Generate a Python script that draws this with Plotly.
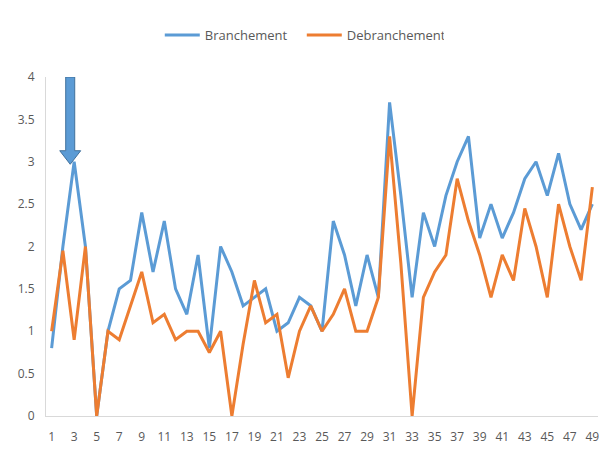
import plotly.graph_objects as go

categories = list(range(1, 50))
branchement = [0.8, 2.0, 3.0, 2.0, 0.0, 1.0, 1.5, 1.6, 2.4, 1.7,
               2.3, 1.5, 1.2, 1.9, 0.8, 2.0, 1.7, 1.3, 1.4, 1.5,
               1.0, 1.1, 1.4, 1.3, 1.0, 2.3, 1.9, 1.3, 1.9, 1.4,
               3.7, 2.6, 1.4, 2.4, 2.0, 2.6, 3.0, 3.3, 2.1, 2.5,
               2.1, 2.4, 2.8, 3.0, 2.6, 3.1, 2.5, 2.2, 2.5]
debranchement = [1.0, 1.95, 0.9, 2.0, 0.0, 1.0, 0.9, 1.3, 1.7, 1.1,
                 1.2, 0.9, 1.0, 1.0, 0.75, 1.0, 0.0, 0.85, 1.6, 1.1,
                 1.2, 0.45, 1.0, 1.3, 1.0, 1.2, 1.5, 1.0, 1.0, 1.4,
                 3.3, 1.8, 0.0, 1.4, 1.7, 1.9, 2.8, 2.3, 1.9, 1.4,
                 1.9, 1.6, 2.45, 2.0, 1.4, 2.5, 2.0, 1.6, 2.7]
xtick_vals = list(range(1, 50, 2))
ytick_vals = [0, 0.5, 1, 1.5, 2, 2.5, 3, 3.5, 4]

fig = go.Figure()
fig.add_trace(go.Scatter(x=categories, y=branchement, mode="lines", name="Branchement",
                         line=dict(color="#5b9bd5", width=3)))
fig.add_trace(go.Scatter(x=categories, y=debranchement, mode="lines", name="Debranchement",
                         line=dict(color="#ed7d31", width=3)))

# down arrow annotation shape
cx, hw, hh = 2.65, 0.4, 0.93
top, neck, tip = 4.0, 3.13, 2.97
path = (f"M {cx-hw},{top} L {cx+hw},{top} L {cx+hw},{neck} L {cx+hh},{neck} "
        f"L {cx},{tip} L {cx-hh},{neck} L {cx-hw},{neck} Z")
fig.add_shape(type="path", path=path, xref="x", yref="y",
              fillcolor="#5b9bd5", line=dict(color="#41719c", width=1))

font_fam = "Open Sans, Liberation Sans, sans-serif"
fig.update_layout(
    width=607, height=458,
    margin=dict(l=38, r=17, t=69, b=50, autoexpand=False),
    paper_bgcolor="white", plot_bgcolor="white",
    font=dict(family=font_fam, size=12, color="#595959"),
    showlegend=True,
    legend=dict(orientation="h", x=0.484, xanchor="center", xref="container",
                y=0.941, yanchor="middle", yref="container",
                font=dict(size=13, color="#595959"),
                itemwidth=35, tracegroupgap=0, entrywidth=92, entrywidthmode="pixels"),
    xaxis=dict(range=[0.5, 49.5], tickmode="array", tickvals=xtick_vals,
               ticktext=[str(v) for v in xtick_vals], showgrid=False, zeroline=False,
               showline=True, linecolor="#d9d9d9", linewidth=1, ticks="",
               tickfont=dict(size=12), ticklabelstandoff=10, automargin=False),
    yaxis=dict(range=[0, 4], tickmode="array", tickvals=ytick_vals,
               ticktext=["0", "0.5", "1", "1.5", "2", "2.5", "3", "3.5", "4"],
               showgrid=False, zeroline=False, showline=True, linecolor="#d9d9d9",
               linewidth=1, ticks="", tickfont=dict(size=12), ticklabelstandoff=8,
               automargin=False),
)

fig.write_html("out.html")
